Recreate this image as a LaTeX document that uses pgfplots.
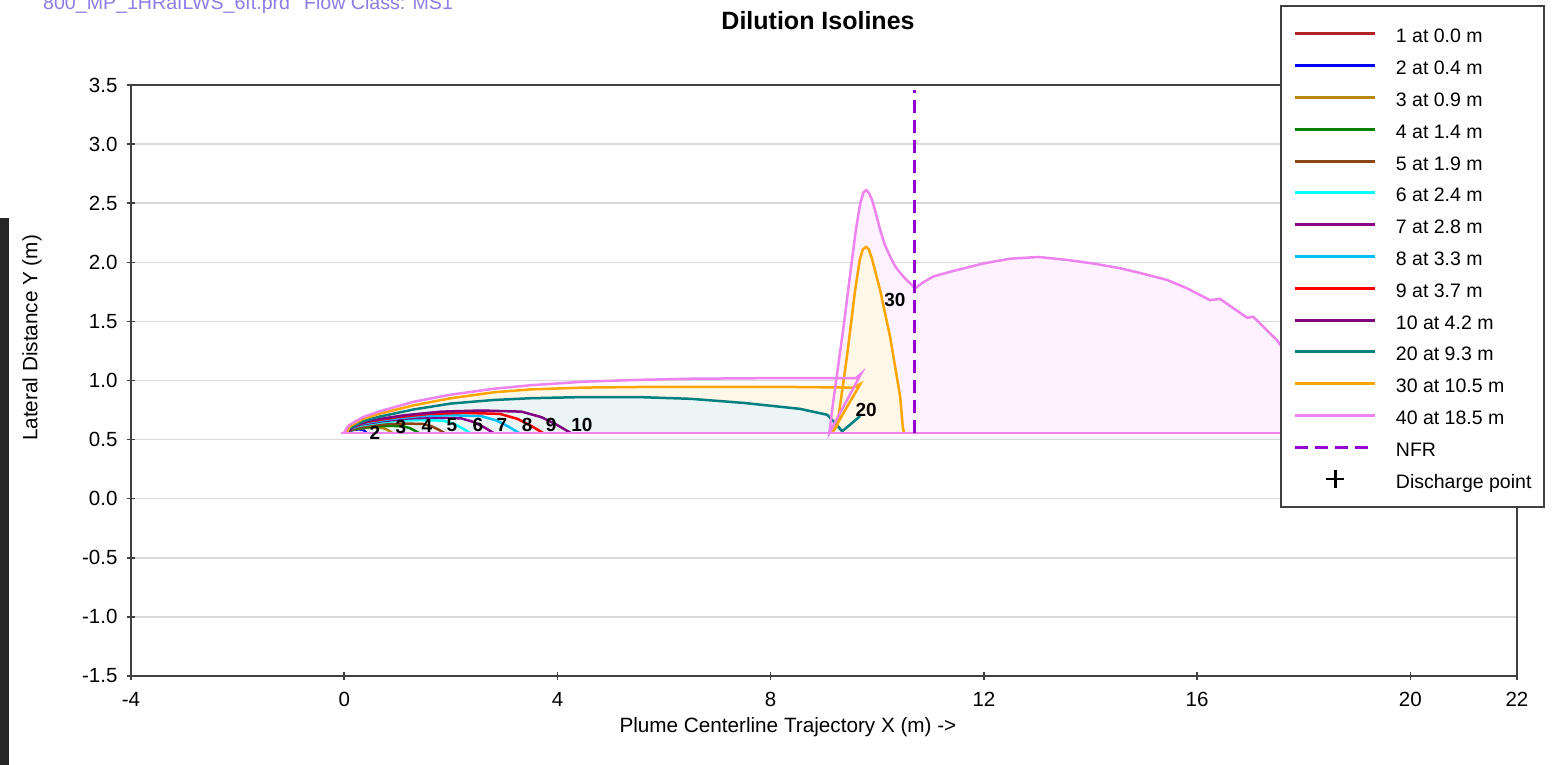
\documentclass[border=0pt]{standalone}
\usepackage{fontspec}
\setmainfont{Liberation Sans}
\usepackage{pgfplots}
\pgfplotsset{compat=1.18}

\definecolor{cI}{HTML}{B22222}
\definecolor{cII}{HTML}{0000FF}
\definecolor{cIII}{HTML}{B8860B}
\definecolor{cIV}{HTML}{008000}
\definecolor{cV}{HTML}{8B4513}
\definecolor{cVI}{HTML}{00FFFF}
\definecolor{cVII}{HTML}{8B008B}
\definecolor{cVIII}{HTML}{00BFFF}
\definecolor{cIX}{HTML}{FF0000}
\definecolor{cX}{HTML}{800080}
\definecolor{cXX}{HTML}{008080}
\definecolor{cXXX}{HTML}{FFA500}
\definecolor{cXL}{HTML}{EE82EE}
\definecolor{cNFR}{HTML}{9400D3}
\definecolor{hdr}{HTML}{8E7CE6}
\definecolor{axisgray}{HTML}{404040}

\pgfplotsset{
  iso/.style={line width=2.5pt},
  lineimg/.style={legend image code/.code={\draw[##1, line width=3pt] (0pt,0pt) -- (80pt,0pt);}},
  markimg/.style={legend image code/.code={\draw[##1] plot coordinates {(40pt,0pt)};}},
}

\begin{document}
\begin{tikzpicture}
\useasboundingbox (0pt,0pt) rectangle (1553pt,765pt);
\clip (0pt,0pt) rectangle (1553pt,765pt);
\fill[white] (0pt,0pt) rectangle (1553pt,765pt);
\fill[black!85] (0pt,0pt) rectangle (9pt,547pt);

\node[anchor=base west, text=hdr, font=\fontsize{19.6}{23}\selectfont, inner sep=0pt]
  at (43pt,755pt) {800\_MP\_1HRafLWS\_6ft.prd\hspace{14pt}Flow Class: MS1};
\node[font=\bfseries\fontsize{25}{30}\selectfont] at (818pt,744pt) {Dilution Isolines};

\begin{axis}[
  at={(131pt,89pt)}, anchor=south west,
  scale only axis, width=1386pt, height=591pt,
  xmin=-4, xmax=22, ymin=-1.5, ymax=3.5,
  xtick={-4,0,4,8,12,16,20,22},
  xticklabels={-4,0,4,8,12,16,20,22},
  ytick={-1.5,-1,-0.5,0,0.5,1,1.5,2,2.5,3,3.5},
  yticklabels={-1.5,-1.0,-0.5,0.0,0.5,1.0,1.5,2.0,2.5,3.0,3.5},
  xtick pos=bottom, ytick pos=left,
  tick align=center, major tick length=8pt,
  tick style={draw=axisgray, line width=1.5pt},
  axis line style={draw=axisgray, line width=2pt},
  ymajorgrids, grid style={draw=black!15, line width=1.5pt},
  ticklabel style={font=\fontsize{20.5}{24}\selectfont},
  xticklabel style={yshift=-9pt},
  yticklabel style={xshift=-6pt},
  xlabel={Plume Centerline Trajectory X (m) ->},
  ylabel={Lateral Distance Y (m)},
  label style={font=\fontsize{20.7}{24}\selectfont},
  xlabel style={at={(axis description cs:0.474,-0.0863)}, anchor=center},
  ylabel style={at={(axis description cs:-0.0715,0.572)}, anchor=center},
  lineimg,
  legend cell align=left,
  legend style={at={(0.829,1.1354)}, anchor=north west,
    draw=axisgray, line width=2pt, fill=white,
    font=\fontsize{19.5}{22}\selectfont,
    inner xsep=13pt, inner ysep=19pt, row sep=13.8pt,
    nodes={inner sep=0pt, text height=18pt, text depth=0pt},
    /tikz/every odd column/.append style={column sep=19pt}},
]

% shaded plume regions
\addplot[draw=none, fill=cXL!10, forget plot] coordinates {
 (9.10,0.556) (9.17,0.81) (9.36,1.43) (9.50,1.93) (9.60,2.28) (9.68,2.50)
 (9.74,2.59) (9.79,2.61) (9.84,2.59) (9.90,2.53) (9.97,2.42) (10.05,2.28)
 (10.14,2.15) (10.24,2.05) (10.33,1.97) (10.43,1.91) (10.53,1.86) (10.62,1.82)
 (10.71,1.78) (10.86,1.83) (11.05,1.88) (11.37,1.92) (11.99,1.99) (12.49,2.03)
 (13.02,2.045) (13.56,2.02) (14.05,1.99) (14.55,1.95) (14.93,1.91) (15.44,1.85)
 (15.81,1.78) (16.24,1.68) (16.43,1.69) (16.94,1.53) (17.05,1.54) (17.50,1.34)
 (17.80,1.15) (18.10,0.92) (18.35,0.70) (18.50,0.556)} -- cycle;
\addplot[draw=none, fill=cXXX!9, forget plot] coordinates {
 (0.05,0.556) (0.10,0.61) (0.35,0.675) (0.67,0.72) (1.3,0.79) (2.0,0.85)
 (2.8,0.90) (3.5,0.925) (4.5,0.94) (5.5,0.945) (7.0,0.945) (8.5,0.945)
 (9.55,0.94) (9.68,0.97) (9.15,0.556) (9.25,0.62) (9.43,1.20) (9.58,1.75)
 (9.67,2.02) (9.73,2.11) (9.79,2.13) (9.84,2.11) (9.90,2.03) (10.05,1.77)
 (10.24,1.37) (10.43,0.86) (10.48,0.60) (10.50,0.556)} -- cycle;
\addplot[draw=none, fill=cXX!8, forget plot] coordinates {
 (0.05,0.556) (0.10,0.595) (0.35,0.655) (0.67,0.695) (1.3,0.755) (2.0,0.805)
 (2.8,0.835) (3.5,0.85) (4.5,0.86) (5.5,0.86) (6.5,0.845) (7.5,0.81)
 (8.55,0.76) (9.06,0.71) (9.25,0.62) (9.34,0.556)} -- cycle;

% dilution isolines
\addplot[iso, cI] coordinates {(0.00,0.556) (0.02,0.566) (0.05,0.556)};
\addlegendentry{1 at 0.0 m}
\addplot[iso, cII] coordinates {
 (0.05,0.556) (0.061,0.565) (0.087,0.5725) (0.143,0.579) (0.205,0.5845)
 (0.272,0.586) (0.339,0.5845) (0.372,0.577) (0.398,0.5665) (0.42,0.556)};
\addlegendentry{2 at 0.4 m}
\addplot[iso, cIII] coordinates {
 (0.05,0.556) (0.0755,0.5695) (0.135,0.5808) (0.2625,0.5911) (0.407,0.5988)
 (0.56,0.601) (0.713,0.5988) (0.7895,0.5875) (0.849,0.5718) (0.9,0.556)};
\addlegendentry{3 at 0.9 m}
\addplot[iso, cIV] coordinates {
 (0.05,0.556) (0.0905,0.574) (0.185,0.589) (0.3875,0.6028) (0.617,0.613)
 (0.86,0.616) (1.103,0.613) (1.2245,0.598) (1.319,0.577) (1.4,0.556)};
\addlegendentry{4 at 1.4 m}
\addplot[iso, cV] coordinates {
 (0.05,0.556) (0.1049,0.580) (0.233,0.600) (0.5075,0.6184) (0.8186,0.632)
 (1.148,0.636) (1.4774,0.632) (1.6421,0.612) (1.7702,0.584) (1.88,0.556)};
\addlegendentry{5 at 1.9 m}
\addplot[iso, cVI] coordinates {
 (0.05,0.556) (0.1193,0.589) (0.281,0.6165) (0.6275,0.6418) (1.0202,0.6605)
 (1.436,0.666) (1.8518,0.6605) (2.0597,0.633) (2.2214,0.5945) (2.36,0.556)};
\addlegendentry{6 at 2.4 m}
\addplot[iso, cVII] coordinates {
 (0.05,0.556) (0.1325,0.595) (0.325,0.6275) (0.7375,0.6574) (1.205,0.6795)
 (1.7,0.686) (2.195,0.6795) (2.4425,0.647) (2.635,0.6015) (2.8,0.556)};
\addlegendentry{7 at 2.8 m}
\addplot[iso, cVIII] coordinates {
 (0.05,0.556) (0.1469,0.601) (0.373,0.6385) (0.8575,0.673) (1.4066,0.6985)
 (1.988,0.706) (2.5694,0.6985) (2.8601,0.661) (3.0862,0.6085) (3.28,0.556)};
\addlegendentry{8 at 3.3 m}
\addplot[iso, cIX] coordinates {
 (0.05,0.556) (0.1604,0.607) (0.418,0.6495) (0.97,0.6886) (1.5956,0.7175)
 (2.258,0.726) (2.9204,0.7175) (3.2516,0.675) (3.5092,0.6155) (3.73,0.556)};
\addlegendentry{9 at 3.7 m}
\addplot[iso, cX] coordinates {
 (0.05,0.556) (0.176,0.613) (0.47,0.6605) (1.1,0.7042) (1.814,0.7365)
 (2.57,0.746) (3.326,0.7365) (3.704,0.689) (3.998,0.6225) (4.25,0.556)};
\addlegendentry{10 at 4.2 m}
\addplot[iso, cXX] coordinates {
 (0.05,0.556) (0.10,0.595) (0.35,0.655) (0.67,0.695) (1.3,0.755) (2.0,0.805)
 (2.8,0.835) (3.5,0.85) (4.5,0.86) (5.5,0.86) (6.5,0.845) (7.5,0.81)
 (8.55,0.76) (9.06,0.71) (9.25,0.62) (9.34,0.57) (9.50,0.63) (9.68,0.70)};
\addlegendentry{20 at 9.3 m}
\addplot[iso, cXXX] coordinates {
 (0.05,0.556) (0.10,0.61) (0.35,0.675) (0.67,0.72) (1.3,0.79) (2.0,0.85)
 (2.8,0.90) (3.5,0.925) (4.5,0.94) (5.5,0.945) (7.0,0.945) (8.5,0.945)
 (9.55,0.94) (9.68,0.97) (9.15,0.556) (9.25,0.62) (9.43,1.20) (9.58,1.75)
 (9.67,2.02) (9.73,2.11) (9.79,2.13) (9.84,2.11) (9.90,2.03) (10.05,1.77)
 (10.24,1.37) (10.43,0.86) (10.48,0.60) (10.50,0.556)};
\addlegendentry{30 at 10.5 m}
\addplot[iso, cXL] coordinates {
 (0.00,0.556) (0.05,0.60) (0.10,0.625) (0.35,0.69) (0.67,0.74) (1.3,0.82)
 (2.0,0.88) (2.8,0.93) (3.5,0.96) (4.5,0.99) (5.5,1.005) (6.5,1.015)
 (8.0,1.02) (9.6,1.02) (9.70,1.06) (9.10,0.556)
 (9.17,0.81) (9.36,1.43) (9.50,1.93) (9.60,2.28) (9.68,2.50)
 (9.74,2.59) (9.79,2.61) (9.84,2.59) (9.90,2.53) (9.97,2.42) (10.05,2.28)
 (10.14,2.15) (10.24,2.05) (10.33,1.97) (10.43,1.91) (10.53,1.86) (10.62,1.82)
 (10.71,1.78) (10.86,1.83) (11.05,1.88) (11.37,1.92) (11.99,1.99) (12.49,2.03)
 (13.02,2.045) (13.56,2.02) (14.05,1.99) (14.55,1.95) (14.93,1.91) (15.44,1.85)
 (15.81,1.78) (16.24,1.68) (16.43,1.69) (16.94,1.53) (17.05,1.54) (17.50,1.34)
 (17.80,1.15) (18.10,0.92) (18.35,0.70) (18.50,0.556)};
\addlegendentry{40 at 18.5 m}
% plume centreline
\addplot[iso, cXL, forget plot] coordinates {(-0.06,0.556) (22,0.556)};

% near-field region boundary
\addplot[cNFR, line width=3pt, dash pattern=on 13pt off 7pt] coordinates {(10.7,0.556) (10.7,3.46)};
\addlegendentry{NFR}
\addlegendimage{only marks, mark=+, mark size=9pt, line width=2.5pt, black, markimg}
\addlegendentry{Discharge point}

% isoline labels
\begin{scope}[every node/.style={font=\bfseries\fontsize{19}{22}\selectfont, inner sep=0pt}]
\node at (axis cs:0.577,0.556) {2};
\node at (axis cs:1.065,0.605) {3};
\node at (axis cs:1.553,0.613) {4};
\node at (axis cs:2.022,0.622) {5};
\node at (axis cs:2.51,0.622) {6};
\node at (axis cs:2.96,0.622) {7};
\node at (axis cs:3.43,0.622) {8};
\node at (axis cs:3.88,0.622) {9};
\node at (axis cs:4.46,0.622) {10};
\node at (axis cs:9.79,0.749) {20};
\node at (axis cs:10.33,1.68) {30};
\end{scope}
\end{axis}
\end{tikzpicture}
\end{document}
